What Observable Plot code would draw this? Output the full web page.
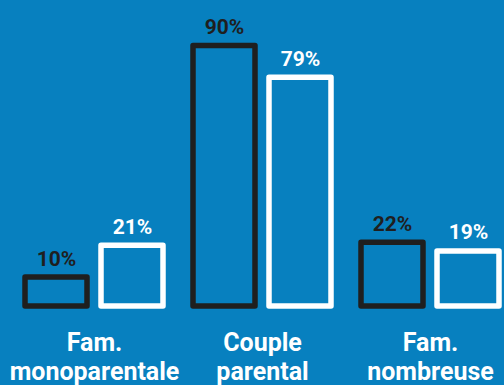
<!DOCTYPE html>
<html>
<head>
<meta charset="utf-8">
<script src="https://cdn.jsdelivr.net/npm/d3@7"></script>
<script src="https://cdn.jsdelivr.net/npm/@observablehq/plot@0.6"></script>
<style>
  html, body { margin: 0; padding: 0; background: #0780bf; }
  #chart svg { display: block; }
</style>
</head>
<body>
<div id="chart"></div>
<script>
const categories = ["Fam.\nmonoparentale", "Couple\nparental", "Fam.\nnombreuse"];
const series = ["Série 1", "Série 2"];
const values1 = [10, 90, 22];
const values2 = [21, 79, 19];
const seriesValues = [values1, values2];

const bg = "#0780bf";
const dark = "#1f1f1f";

const data = categories.flatMap((c, i) =>
  series.map((s, j) => ({category: c, series: s, value: seriesValues[j][i]}))
);

const chart = Plot.plot({
  width: 504,
  height: 385,
  marginTop: 16.5,
  marginBottom: 79,
  marginLeft: 9,
  marginRight: -11,
  style: {background: bg, fontFamily: "Roboto, sans-serif", overflow: "visible"},
  fx: {domain: categories, padding: 0, axis: null},
  x: {domain: series, padding: 0.19, axis: null},
  y: {domain: [0, 100], axis: null},
  color: {domain: series, range: [dark, "white"]},
  marks: [
    Plot.barY(data, {fx: "category", x: "series", y: "value", fill: "none", stroke: "series", strokeWidth: 5.5, strokeLinejoin: "round"}),
    Plot.text(data, {fx: "category", x: "series", y: "value", text: d => d.value + "%", fill: "series", lineAnchor: "bottom", dy: -12, fontSize: 21, fontWeight: 700}),
    Plot.text(categories, {fx: d => d, text: d => d, frameAnchor: "bottom", lineAnchor: "top", dy: 24, fontSize: 25, fontWeight: 700, fill: "white", lineHeight: 1.16})
  ]
});
document.getElementById("chart").append(chart);
</script>
</body>
</html>
